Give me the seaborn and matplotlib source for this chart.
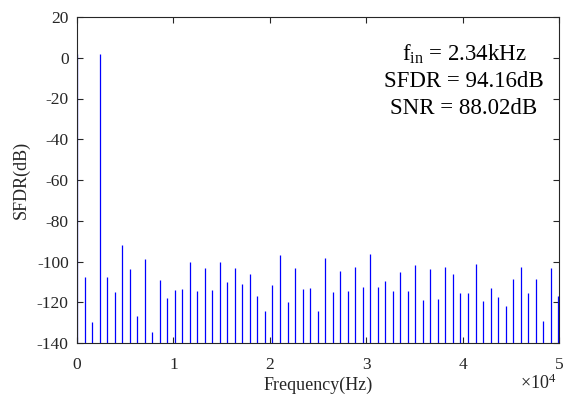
import matplotlib
matplotlib.use("Agg")
import matplotlib.pyplot as plt
import seaborn as sns
import numpy as np
from matplotlib.ticker import FuncFormatter

# Spectrum bins: k * 780 Hz, k = 0..64
bin_hz = 780.0
bin_index = list(range(65))
sfdr_db = [
    1.8, -107.4, -129.7, 1.8, -107.4, -115.2, -92.1, -103.6, -126.7, -99.0,
    -134.4, -109.0, -117.9, -113.8, -113.4, -100.2, -114.4, -103.1, -113.8, -100.0,
    -110.0, -103.1, -111.0, -105.9, -116.7, -124.3, -111.5, -96.6, -120.0, -103.0,
    -113.4, -113.1, -124.4, -98.4, -114.9, -104.9, -114.3, -102.6, -112.5, -96.1,
    -112.3, -109.5, -114.4, -105.1, -114.4, -101.6, -118.7, -103.6, -118.2, -102.6,
    -106.1, -115.7, -115.7, -101.0, -119.5, -113.0, -117.5, -121.6, -108.4, -102.6,
    -115.7, -108.4, -129.0, -103.1, -116.7,
]
x_ticks = [0, 10000, 20000, 30000, 40000, 50000]
x_tick_labels = ["0", "1", "2", "3", "4", "5"]
y_ticks = [-140, -120, -100, -80, -60, -40, -20, 0, 20]
annotation_lines = [r"f$_{\mathrm{in}}$ = 2.34kHz", "SFDR = 94.16dB", "SNR = 88.02dB"]

sns.set_theme(style="ticks")
plt.rcParams["font.family"] = ["Liberation Serif", "DejaVu Serif"]
plt.rcParams["mathtext.fontset"] = "custom"
plt.rcParams["mathtext.rm"] = "Liberation Serif"
plt.rcParams["mathtext.it"] = "Liberation Serif:italic"
plt.rcParams["axes.unicode_minus"] = False

freqs = np.array(bin_index) * bin_hz
vals = np.array(sfdr_db)

W, H = 563, 396
fig = plt.figure(figsize=(W / 100, H / 100), dpi=100)
ax = fig.add_axes([77 / W, 1 - 343 / H, (559 - 77) / W, (343 - 17) / H])

ax.vlines(freqs, -140, vals, colors="#0000FF", linewidth=0.9)

ax.set_xlim(0, 50000)
ax.set_ylim(-140, 20)
ax.set_xticks(x_ticks)
ax.xaxis.set_major_formatter(FuncFormatter(
    lambda v, p: x_tick_labels[x_ticks.index(int(round(v)))] if int(round(v)) in x_ticks else ""))
ax.set_yticks(y_ticks)

for s in ax.spines.values():
    s.set_visible(True)
    s.set_color("#262626")
    s.set_linewidth(0.8)

ax.tick_params(direction="in", top=True, right=True, length=4, width=0.8,
               labelsize=12.5, colors="#262626")
ax.tick_params(axis="x", pad=10)
ax.tick_params(axis="y", pad=6)
ax.set_xlabel("Frequency(Hz)", fontsize=13, color="#262626", labelpad=3)
ax.set_ylabel("SFDR(dB)", fontsize=13, color="#262626", labelpad=5)

fig.text(538 / W, 1 - 383 / H, r"$\times10^{4}$", ha="center", va="center",
         fontsize=13, color="#262626")

baselines = [60.7, 87.3, 114.3]
for line, yb in zip(annotation_lines, baselines):
    fig.text(464 / W, 1 - yb / H, line, ha="center", va="baseline",
             fontsize=16.5, color="black")

fig.savefig("out.png", dpi=100)
